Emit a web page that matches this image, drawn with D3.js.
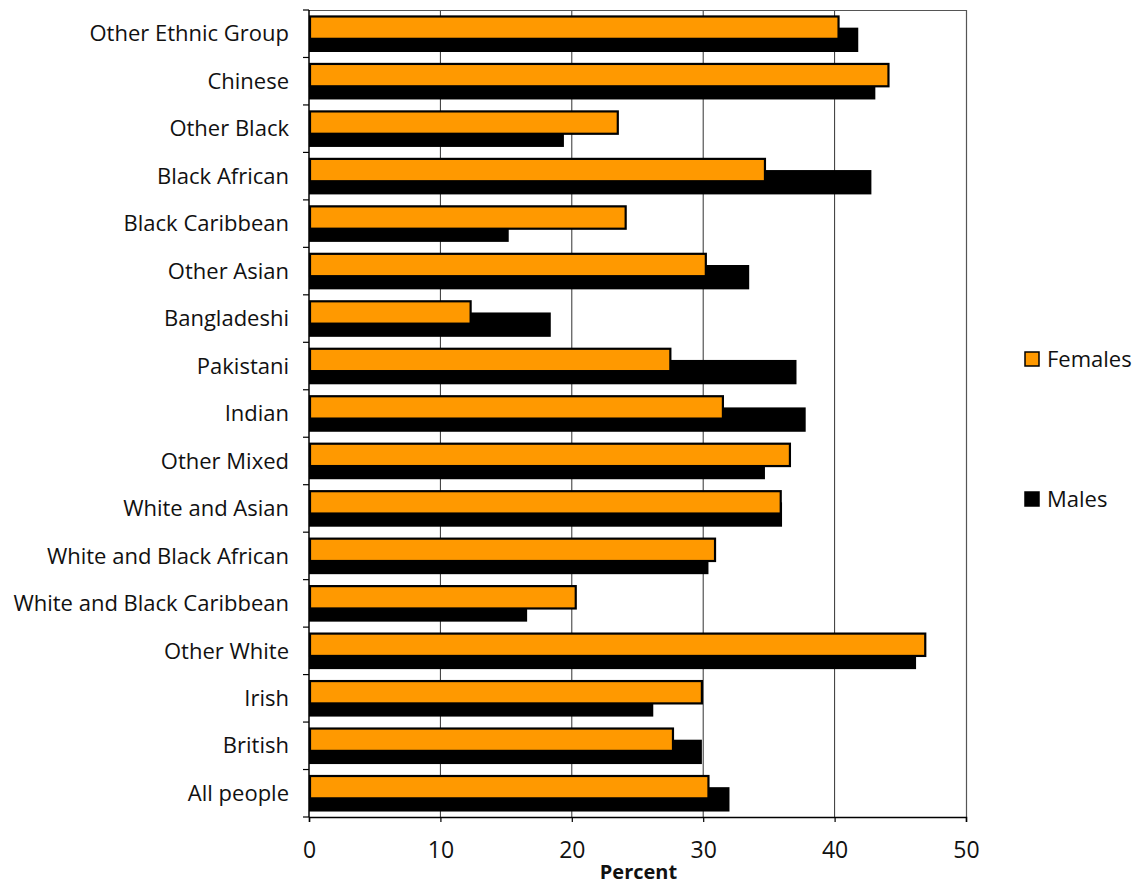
<!DOCTYPE html>
<html>
<head>
<meta charset="utf-8">
<script src="https://cdn.jsdelivr.net/npm/d3@7"></script>
<style>
  html, body { margin: 0; padding: 0; background: #fff; }
  svg { display: block; font-family: "Open Sans", "Noto Sans", sans-serif; }
</style>
</head>
<body>
<svg id="chart" width="1137" height="886"></svg>
<script>
// Ethnic groups, listed top to bottom
const categories = [
  "Other Ethnic Group", "Chinese", "Other Black", "Black African", "Black Caribbean",
  "Other Asian", "Bangladeshi", "Pakistani", "Indian", "Other Mixed",
  "White and Asian", "White and Black African", "White and Black Caribbean",
  "Other White", "Irish", "British", "All people"
];
const females = [40.3, 44.1, 23.5, 34.7, 24.1, 30.2, 12.3, 27.5, 31.5, 36.6, 35.9, 30.9, 20.3, 46.9, 29.9, 27.7, 30.4];
const males   = [41.8, 43.1, 19.4, 42.8, 15.2, 33.5, 18.4, 37.1, 37.8, 34.7, 36.0, 30.4, 16.6, 46.2, 26.2, 29.9, 32.0];
const xTicks = [0, 10, 20, 30, 40, 50];
const seriesNames = ["Females", "Males"];
const seriesColors = ["#ff9900", "#000000"];

const svg = d3.select("#chart");
const plotLeft = 309, plotRight = 966, plotTop = 10, plotBottom = 817;

const x = d3.scaleLinear().domain([0, 50]).range([plotLeft, plotRight]);
const y = d3.scaleBand().domain(categories).range([plotTop, plotBottom]).paddingInner(0).paddingOuter(0);

const band = y.bandwidth();
const barH = band * 0.513;
const pad = (band - barH * 1.5) / 2;

// vertical gridlines
svg.append("g").selectAll("line")
  .data(xTicks.filter(d => d > 0 && d < 50))
  .join("line")
  .attr("x1", d => x(d)).attr("x2", d => x(d))
  .attr("y1", plotTop).attr("y2", plotBottom)
  .attr("stroke", "#333").attr("stroke-width", 1);

// plot border (top and right)
svg.append("path")
  .attr("d", `M${plotLeft},${plotTop + 0.5}H${plotRight + 0.5}V${plotBottom}`)
  .attr("fill", "none").attr("stroke", "#555").attr("stroke-width", 1.2);

// male bars (behind)
svg.append("g").selectAll("rect")
  .data(categories)
  .join("rect")
  .attr("x", x(0))
  .attr("y", (d) => y(d) + pad + barH * 0.5)
  .attr("width", (d, i) => x(males[i]) - x(0))
  .attr("height", barH)
  .attr("fill", seriesColors[1]);

// female bars (in front)
svg.append("g").selectAll("rect")
  .data(categories)
  .join("rect")
  .attr("x", x(0) + 1)
  .attr("y", (d) => y(d) + pad + 1)
  .attr("width", (d, i) => x(females[i]) - x(0) - 1)
  .attr("height", barH - 2)
  .attr("fill", seriesColors[0])
  .attr("stroke", "#000").attr("stroke-width", 2.2);

// y axis
const yAxis = svg.append("g").attr("transform", `translate(${plotLeft},0)`);
yAxis.append("line").attr("x1", 0).attr("x2", 0).attr("y1", plotTop).attr("y2", plotBottom)
  .attr("stroke", "#000").attr("stroke-width", 1.5);
yAxis.selectAll("line.tick")
  .data(d3.range(categories.length + 1))
  .join("line").attr("class", "tick")
  .attr("x1", -6).attr("x2", 0)
  .attr("y1", i => plotTop + i * band).attr("y2", i => plotTop + i * band)
  .attr("stroke", "#000").attr("stroke-width", 1.2);
yAxis.selectAll("text")
  .data(categories)
  .join("text")
  .attr("x", -20)
  .attr("y", d => y(d) + band / 2)
  .attr("dy", "0.35em")
  .attr("text-anchor", "end")
  .attr("font-size", 22)
  .attr("fill", "#111")
  .text(d => d);

// x axis
const xAxis = svg.append("g").attr("transform", `translate(0,${plotBottom})`)
  .call(d3.axisBottom(x).tickValues(xTicks).tickSize(5).tickPadding(20).tickFormat(d3.format("d")));
xAxis.select(".domain").attr("stroke", "#000").attr("stroke-width", 1.5);
xAxis.selectAll(".tick line").attr("stroke", "#000").attr("stroke-width", 1.2);
xAxis.selectAll(".tick text").attr("font-size", 23).attr("fill", "#111")
  .attr("font-family", "\"Open Sans\", \"Noto Sans\", sans-serif");

svg.append("text")
  .attr("x", 638.5)
  .attr("y", 879)
  .attr("text-anchor", "middle")
  .attr("font-size", 20)
  .attr("font-weight", "bold")
  .attr("fill", "#111")
  .text("Percent");

// legend
const legend = svg.append("g");
const legY = [359, 499];
seriesNames.forEach((name, i) => {
  legend.append("rect")
    .attr("x", 1025).attr("y", legY[i] - 7)
    .attr("width", 14).attr("height", 14)
    .attr("fill", seriesColors[i])
    .attr("stroke", "#000").attr("stroke-width", 1.5);
  legend.append("text")
    .attr("x", 1047).attr("y", legY[i])
    .attr("dy", "0.35em")
    .attr("font-size", 22)
    .attr("fill", "#111")
    .text(name);
});
</script>
</body>
</html>
